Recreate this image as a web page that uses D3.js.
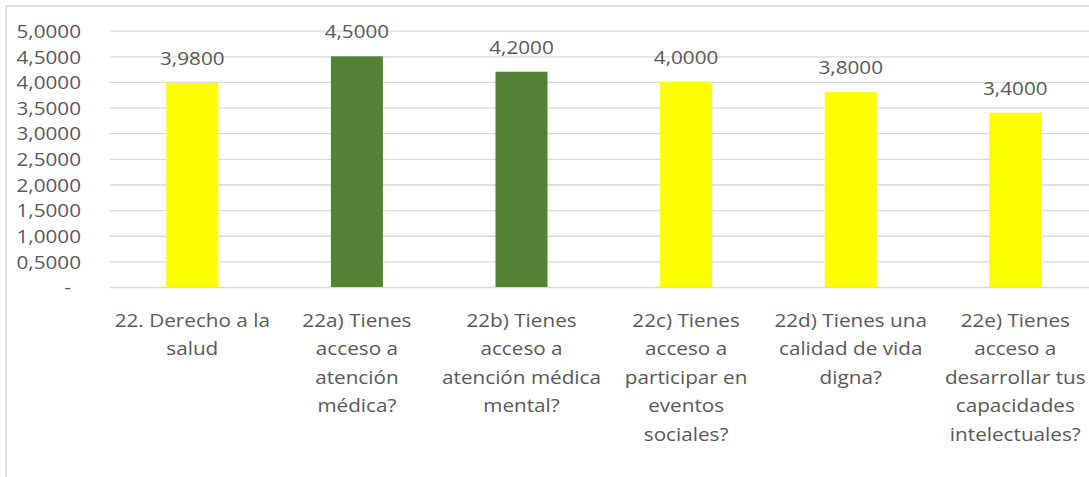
<!DOCTYPE html>
<html>
<head>
<meta charset="utf-8">
<script src="https://cdn.jsdelivr.net/npm/d3@7"></script>
<style>
  html, body { margin: 0; padding: 0; background: #fff; }
  svg { display: block; }
  text { font-family: "Open Sans", "Noto Sans", sans-serif; fill: #595959; }
</style>
</head>
<body>
<svg id="chart" width="1089" height="477"></svg>
<script>
// Category labels (line breaks mark where each label wraps)
const categories = [
  "22. Derecho a la\nsalud",
  "22a) Tienes\nacceso a\natención\nmédica?",
  "22b) Tienes\nacceso a\natención médica\nmental?",
  "22c) Tienes\nacceso a\nparticipar en\neventos\nsociales?",
  "22d) Tienes una\ncalidad de vida\ndigna?",
  "22e) Tienes\nacceso a\ndesarrollar tus\ncapacidades\nintelectuales?"
];
// Mean score per item
const values = [3.98, 4.5, 4.2, 4.0, 3.8, 3.4];
// Item group: health-care access items are highlighted
const groups = ["general", "atencion", "atencion", "general", "general", "general"];
// Y axis ticks
const yTicks = [0, 0.5, 1, 1.5, 2, 2.5, 3, 3.5, 4, 4.5, 5];

const fmt = v => v === 0 ? "-" : v.toFixed(4).replace(".", ",");

const svg = d3.select("#chart");
const plot = { left: 110, right: 1097.6, top: 30.7, bottom: 287 };
const fontSize = "20.7px";
const squash = 0.9; // slightly condensed glyph height

// Chart frame
svg.append("rect")
  .attr("x", 6).attr("y", 6)
  .attr("width", 1200).attr("height", 600)
  .attr("fill", "#fff")
  .attr("stroke", "#d9d9d9").attr("stroke-width", 1.5);

const x = d3.scaleBand()
  .domain(categories)
  .range([plot.left, plot.right])
  .paddingInner(0.684)
  .paddingOuter(0.342);

const y = d3.scaleLinear().domain([0, 5]).range([plot.bottom, plot.top]);

const color = d3.scaleOrdinal()
  .domain(["general", "atencion"])
  .range(["#ffff00", "#548235"]);

// Gridlines and value axis labels
const yAxis = d3.axisLeft(y)
  .tickValues(yTicks)
  .tickSize(-(plot.right - plot.left))
  .tickPadding(0)
  .tickFormat(fmt);

const gy = svg.append("g")
  .attr("transform", `translate(${plot.left},0)`)
  .call(yAxis);
gy.select(".domain").remove();
gy.selectAll(".tick line")
  .attr("stroke", "#d9d9d9")
  .attr("stroke-width", 1.3);
gy.selectAll(".tick text")
  .attr("x", d => d === 0 ? -39 : -29)
  .attr("y", 0)
  .attr("dy", "0.36em")
  .attr("transform", `scale(1,${squash})`)
  .style("font-size", fontSize)
  .style("fill", "#595959")
  .attr("text-anchor", "end");

// Bars
const idx = d3.range(categories.length);
svg.append("g").selectAll("rect")
  .data(idx)
  .join("rect")
  .attr("x", i => x(categories[i]))
  .attr("width", x.bandwidth())
  .attr("y", i => y(values[i]))
  .attr("height", i => y(0) - y(values[i]))
  .attr("fill", i => color(groups[i]));

// Value labels
svg.append("g").selectAll("text")
  .data(idx)
  .join("text")
  .attr("transform", i =>
    `translate(${x(categories[i]) + x.bandwidth() / 2},${y(values[i]) - 18})scale(1,${squash})`)
  .attr("text-anchor", "middle")
  .style("font-size", fontSize)
  .text(i => fmt(values[i]));

// Category labels
const cat = svg.append("g").selectAll("text")
  .data(idx)
  .join("text")
  .attr("text-anchor", "middle")
  .style("font-size", fontSize)
  .attr("transform", i =>
    `translate(${x(categories[i]) + x.bandwidth() / 2},327)scale(1,${squash})`);
cat.selectAll("tspan")
  .data(i => categories[i].split("\n"))
  .join("tspan")
  .attr("x", 0)
  .attr("y", (d, j) => j * 28.5 / squash)
  .text(d => d);
</script>
</body>
</html>
